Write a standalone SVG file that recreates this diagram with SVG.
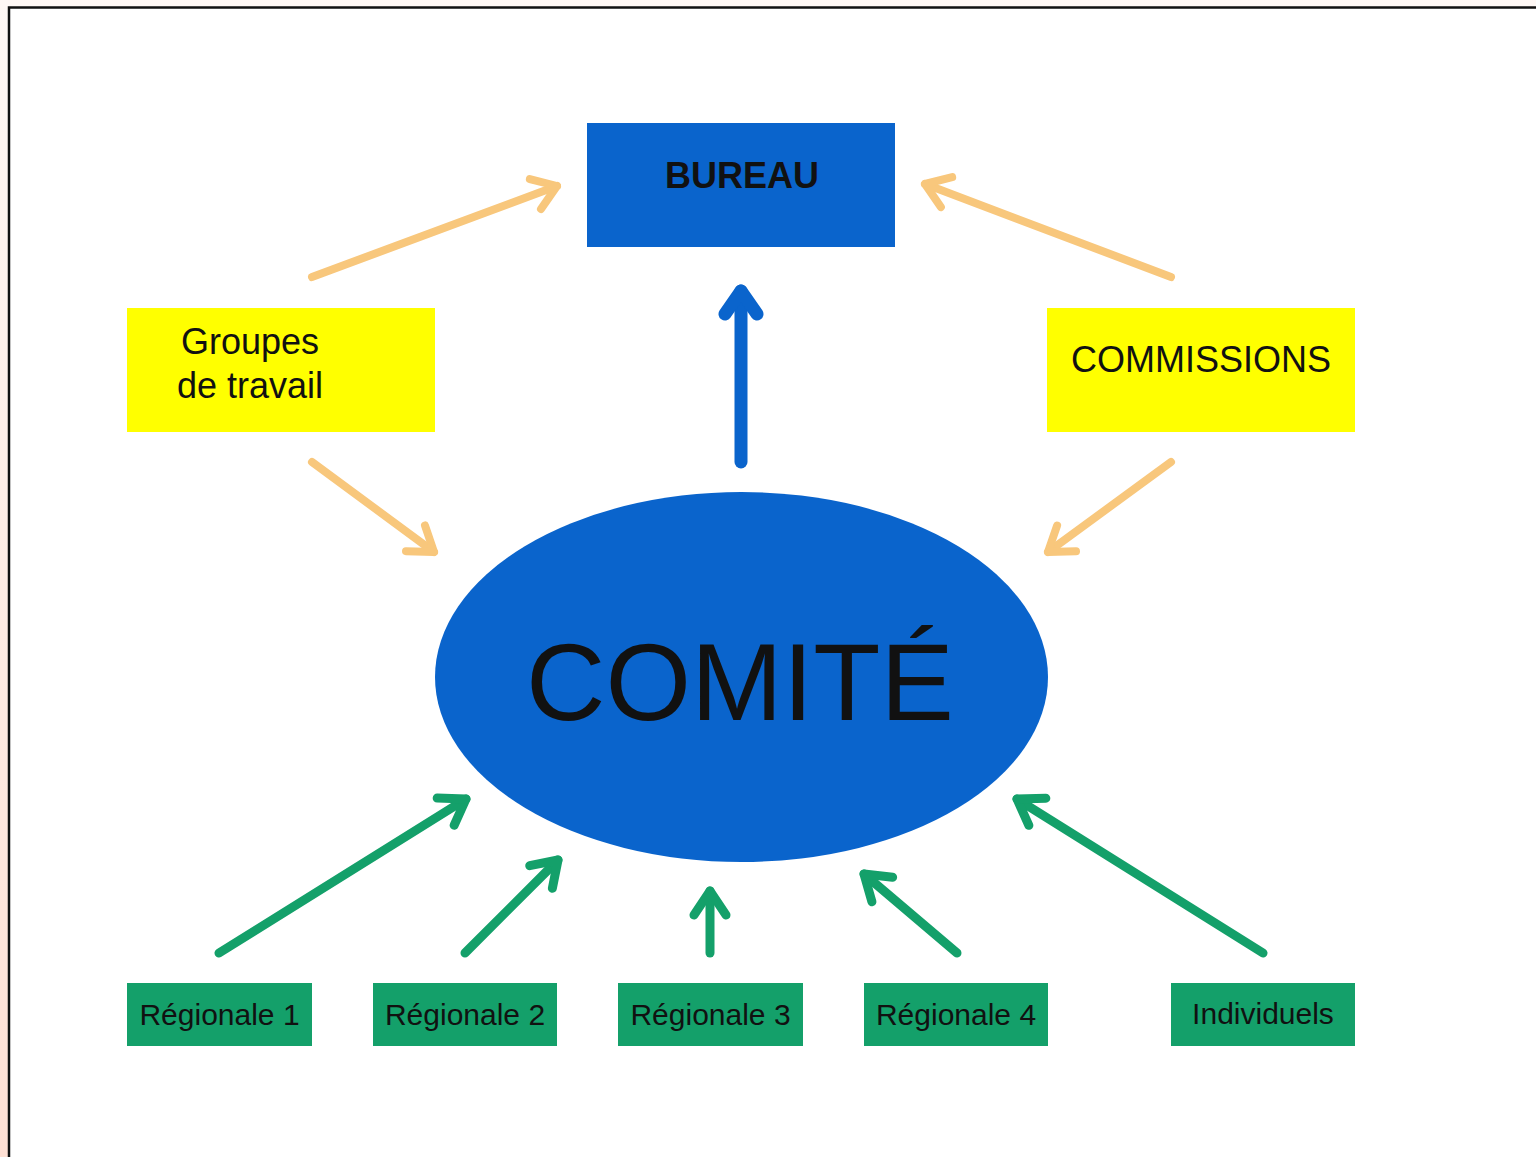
<svg xmlns="http://www.w3.org/2000/svg" width="1536" height="1157" viewBox="0 0 1536 1157">
  <defs>
    <linearGradient id="bg" x1="0" y1="0" x2="0" y2="1">
      <stop offset="0" stop-color="#fff8f5"/>
      <stop offset="1" stop-color="#ffe0d4"/>
    </linearGradient>
    <marker id="hOrange" viewBox="-40 -30 50 60" refX="0" refY="0" markerWidth="50" markerHeight="60" markerUnits="userSpaceOnUse" orient="auto" overflow="visible">
      <path d="M -23 -16 L 0 0 L -23 16" fill="none" stroke="#f8c77c" stroke-width="8" stroke-linecap="round" stroke-linejoin="round"/>
    </marker>
    <marker id="hGreen" viewBox="-40 -30 50 60" refX="0" refY="0" markerWidth="50" markerHeight="60" markerUnits="userSpaceOnUse" orient="auto" overflow="visible">
      <path d="M -24 -16 L 0 0 L -24 16" fill="none" stroke="#14a06a" stroke-width="9" stroke-linecap="round" stroke-linejoin="round"/>
    </marker>
    <marker id="hBlue" viewBox="-40 -30 50 60" refX="0" refY="0" markerWidth="50" markerHeight="60" markerUnits="userSpaceOnUse" orient="auto" overflow="visible">
      <path d="M -23 -16 L 0 0 L -23 16" fill="none" stroke="#0a64cc" stroke-width="13" stroke-linecap="round" stroke-linejoin="round"/>
    </marker>
  </defs>
  <style>
    .lbl { font-family: "Liberation Sans", Arial, sans-serif; fill: #111; }
    .blue { fill: #0a64cc; }
    .yellow { fill: #ffff00; }
    .green { fill: #14a06a; }
    .or { stroke: #f8c77c; stroke-width: 8; stroke-linecap: round; fill: none; marker-end: url(#hOrange); }
    .gr { stroke: #14a06a; stroke-width: 9; stroke-linecap: round; fill: none; marker-end: url(#hGreen); }
    .bl { stroke: #0a64cc; stroke-width: 13; stroke-linecap: round; fill: none; marker-end: url(#hBlue); }
  </style>

  <rect x="0" y="0" width="1536" height="1157" fill="url(#bg)"/>
  <rect x="9" y="7.5" width="1540" height="1160" fill="#ffffff" stroke="#111" stroke-width="2.5"/>

  <g id="connectors">
    <line class="or" x1="312" y1="277" x2="557" y2="186"/>
    <line class="or" x1="1171" y1="277" x2="925" y2="184"/>
    <line class="or" x1="312" y1="462" x2="434" y2="552"/>
    <line class="or" x1="1171" y1="462" x2="1048" y2="552"/>
    <line class="bl" x1="741" y1="462" x2="741" y2="291"/>
    <line class="gr" x1="219" y1="953" x2="466" y2="799"/>
    <line class="gr" x1="465" y1="953" x2="558" y2="860"/>
    <line class="gr" x1="710" y1="953" x2="710" y2="891"/>
    <line class="gr" x1="957" y1="953" x2="864" y2="874"/>
    <line class="gr" x1="1263" y1="953" x2="1017" y2="799"/>
  </g>

  <g id="bureau">
    <rect class="blue" x="587" y="123" width="308" height="124"/>
    <text class="lbl" x="742" y="188" font-size="36" font-weight="bold" text-anchor="middle">BUREAU</text>
  </g>

  <g id="groupes">
    <rect class="yellow" x="127" y="308" width="308" height="124"/>
    <text class="lbl" x="250" y="354" font-size="36" text-anchor="middle">Groupes</text>
    <text class="lbl" x="250" y="398" font-size="36" text-anchor="middle">de travail</text>
  </g>

  <g id="commissions">
    <rect class="yellow" x="1047" y="308" width="308" height="124"/>
    <text class="lbl" x="1201" y="372" font-size="36" text-anchor="middle">COMMISSIONS</text>
  </g>

  <g id="comite">
    <ellipse class="blue" cx="741.5" cy="677" rx="306.5" ry="185"/>
    <text class="lbl" x="740" y="720" font-size="110" text-anchor="middle">COMITÉ</text>
  </g>

  <g id="regionale1">
    <rect class="green" x="127" y="983" width="185" height="63"/>
    <text class="lbl" x="219.5" y="1025" font-size="30" text-anchor="middle">Régionale 1</text>
  </g>
  <g id="regionale2">
    <rect class="green" x="373" y="983" width="184" height="63"/>
    <text class="lbl" x="465" y="1025" font-size="30" text-anchor="middle">Régionale 2</text>
  </g>
  <g id="regionale3">
    <rect class="green" x="618" y="983" width="185" height="63"/>
    <text class="lbl" x="710.5" y="1025" font-size="30" text-anchor="middle">Régionale 3</text>
  </g>
  <g id="regionale4">
    <rect class="green" x="864" y="983" width="184" height="63"/>
    <text class="lbl" x="956" y="1025" font-size="30" text-anchor="middle">Régionale 4</text>
  </g>
  <g id="individuels">
    <rect class="green" x="1171" y="983" width="184" height="63"/>
    <text class="lbl" x="1263" y="1024" font-size="30" text-anchor="middle">Individuels</text>
  </g>
</svg>
